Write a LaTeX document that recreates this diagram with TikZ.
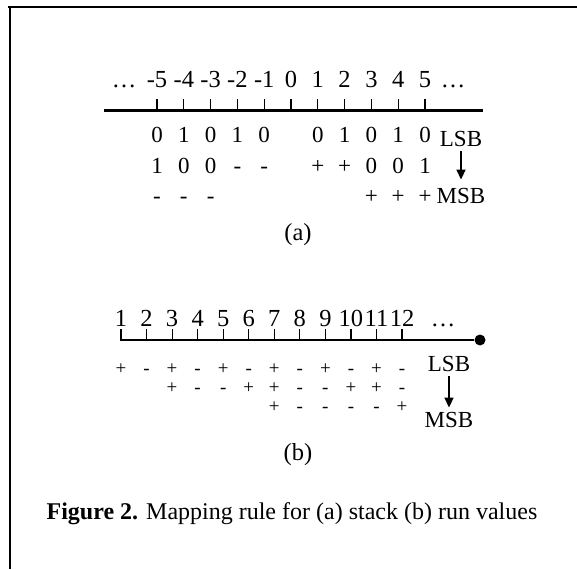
\documentclass[tikz,border=0pt]{standalone}
\usepackage{fontspec}
\setmainfont{Liberation Serif}
\usetikzlibrary{arrows.meta}

\tikzset{
  axisline/.style={line width=3pt},
  axislineb/.style={line width=2pt},
  tickmark/.style={line width=1.2pt},
  lbl/.style={inner sep=0pt,anchor=base,font=\fontsize{24.5}{27}\selectfont},
  bit/.style={inner sep=0pt,anchor=base,font=\fontsize{23}{25}\selectfont},
  sgn/.style={inner sep=0pt,anchor=base,font=\fontsize{19}{21}\selectfont},
  bitarrow/.style={-{Triangle[length=10pt,width=9pt]},line width=1.6pt},
}

\begin{document}
\begin{tikzpicture}[x=1pt,y=-1pt]
\useasboundingbox (0,0) rectangle (577,569);

% frame
\draw[line width=1.6pt] (8,7) -- (577,7);
\draw[line width=1.4pt] (10,6) -- (10,569);

% (a) stack values
\coordinate (a-left) at (104,111);
\coordinate (a-right) at (483,111);
\draw[axisline] (a-left) -- (a-right);
\foreach \i in {-5,...,5}{
  \coordinate (ta\i) at ({291+26.8*\i},111);
  \draw[tickmark] (ta\i) -- ++(0,-12);
  \node[lbl] (la\i) at ({291+26.8*\i},88) {\i};
}
\node[lbl] (dotsa1) at (124,88) {\ldots};
\node[lbl] (dotsa2) at (453,88) {\ldots};

\foreach \i/\b in {-5/0,-4/1,-3/0,-2/1,-1/0,1/0,2/1,3/0,4/1,5/0}
  \node[bit] (ra\i) at ({291+26.8*\i},143) {\b};
\foreach \i/\b in {-5/1,-4/0,-3/0,-2/-,-1/-,1/+,2/+,3/0,4/0,5/1}
  \node[bit] (sa\i) at ({291+26.8*\i},174) {\b};
\foreach \i/\b in {-5/-,-4/-,-3/-,3/+,4/+,5/+}
  \node[bit] (qa\i) at ({291+26.8*\i},204) {\b};

\node[bit] (lsba) at (461,147) {LSB};
\node[bit] (msba) at (461,204) {MSB};
\draw[bitarrow,shorten <=4pt,shorten >=9pt] (lsba) -- (msba);

\node[lbl] (capa) at (298,240) {(a)};

% (b) run values
\coordinate (b-left) at (120,340);
\node[circle,fill,inner sep=0pt,minimum size=11pt] (b-end) at (480,340) {};
\draw[axislineb] (b-left) -- (b-end);
\foreach \i in {1,...,12}{
  \coordinate (tb\i) at ({95.45+25.55*\i},340);
  \draw[tickmark] (tb\i) -- ++(0,-11);
  \node[lbl] (lb\i) at ({95.45+25.55*\i},326) {\i};
}
\node[lbl] (dotsb) at (443,326) {\ldots};

\foreach \i/\s in {1/+,2/-,3/+,4/-,5/+,6/-,7/+,8/-,9/+,10/-,11/+,12/-}
  \node[sgn] (rb\i) at ({95.45+25.55*\i},374) {\s};
\foreach \i/\s in {3/+,4/-,5/-,6/+,7/+,8/-,9/-,10/+,11/+,12/-}
  \node[sgn] (sb\i) at ({95.45+25.55*\i},393) {\s};
\foreach \i/\s in {7/+,8/-,9/-,10/-,11/-,12/+}
  \node[sgn] (qb\i) at ({95.45+25.55*\i},412) {\s};

\node[bit] (lsbb) at (449,371) {LSB};
\node[bit] (msbb) at (449,427) {MSB};
\draw[bitarrow,shorten <=5pt,shorten >=4pt] (lsbb) -- (msbb);

\node[lbl] (capb) at (298,460) {(b)};

% caption
\node[lbl,font=\fontsize{24}{28}\selectfont] (fig) at (292,519)
  {\textbf{Figure 2.} Mapping rule for (a) stack (b) run values};
\end{tikzpicture}
\end{document}
